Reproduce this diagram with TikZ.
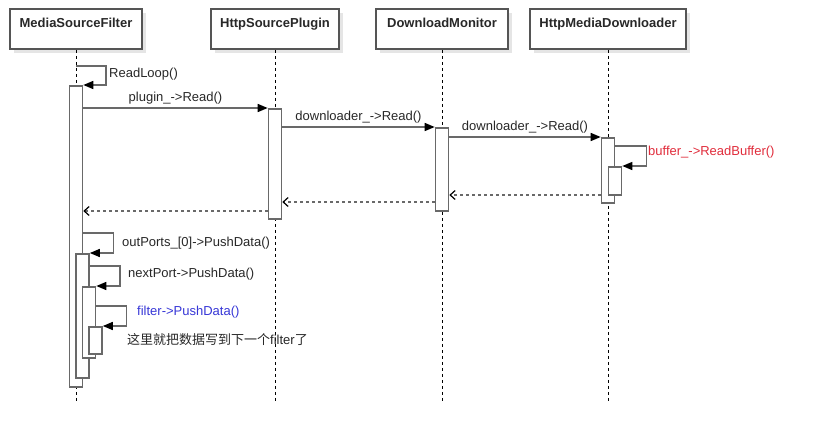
\documentclass[tikz,border=0pt]{standalone}
\usepackage{fontspec}
\setmainfont{Liberation Sans}
\newfontfamily\cjk{Noto Sans CJK SC}
\usetikzlibrary{arrows.meta,shadows}
\definecolor{linegray}{RGB}{105,105,105}
\definecolor{boxgray}{RGB}{85,85,85}
\definecolor{txtgray}{RGB}{40,40,40}
\definecolor{callred}{RGB}{225,45,60}
\definecolor{callblue}{RGB}{55,55,215}

\begin{document}
\begin{tikzpicture}[x=1pt, y=-1pt,
  obj/.style={rectangle, draw=boxgray, line width=1.5pt, fill=white, minimum width=#1, inner sep=0pt, text height=18.5pt, text depth=21.5pt, font=\bfseries\fontsize{13}{15}\selectfont, text=txtgray, drop shadow={shadow xshift=4pt, shadow yshift=-4pt, opacity=0.1, fill=black}},
  act/.style={rectangle, draw=linegray, line width=1.6pt, fill=white, minimum width=13pt, minimum height=#1, inner sep=0pt, anchor=north},
  msg/.style={draw=linegray, line width=1.4pt, -{Triangle[length=10pt, width=8pt, color=black]}},
  ret/.style={draw=linegray, line width=1.2pt, dash pattern=on 3pt off 3pt, -{Straight Barb[length=5pt, width=9pt, color=black]}},
  lifeline/.style={draw=black, line width=0.8pt, dash pattern=on 3pt off 3pt},
  lbl/.style={font=\fontsize{13}{15}\selectfont, text=txtgray, inner sep=0pt}
]
\fill[white] (0,0) rectangle (814,442);
\useasboundingbox (0,0) rectangle (814,442);

% participants
\node[obj=132pt] (msf) at (76,29) {MediaSourceFilter};
\node[obj=128pt] (hsp) at (275,29) {HttpSourcePlugin};
\node[obj=132pt] (dm) at (442,29) {DownloadMonitor};
\node[obj=156pt] (hmd) at (608,29) {HttpMediaDownloader};

\foreach \p in {msf,hsp,dm,hmd}
  \draw[lifeline] (\p.south) -- (\p.south |- 0,402);

% activations
\node[act=301pt] (a1) at (76,85) {};
\node[act=124pt] (a6) at (82.5,253) {};
\node[act=71pt] (a7) at (89,286) {};
\node[act=27pt] (a8) at (95.5,326) {};
\node[act=110pt] (a2) at (275,108) {};
\node[act=83pt] (a3) at (442,127) {};
\node[act=65pt] (a4) at (608,137) {};
\node[act=28pt] (a5) at (615,166) {};

\coordinate (rl) at (76,66);

% calls
\draw[msg] (rl) -- ++(30,0) |- (a1.north east);
\node[lbl, anchor=west] (readloop) at (109,74) {ReadLoop()};
\draw[msg] (a1.east |- a2.north west) -- (a2.north west) node[lbl, midway, above=3pt] {plugin\_->Read()};
\draw[msg] (a2.east |- a3.north west) -- (a3.north west) node[lbl, midway, above=3pt] {downloader\_->Read()};
\draw[msg] (a3.east |- a4.north west) -- (a4.north west) node[lbl, midway, above=3pt] {downloader\_->Read()};
\draw[msg] (a4.east |- 0,146) -- ++(31,0) |- (a5.north east);
\node[lbl, anchor=west, text=callred] (readbuf) at (648,152) {buffer\_->ReadBuffer()};

% returns
\draw[ret] (a4.west |- 0,195) -- (a3.east |- 0,195);
\draw[ret] (a3.west |- 0,202) -- (a2.east |- 0,202);
\draw[ret] (a2.west |- 0,211) -- (a1.east |- 0,211);

% push data
\draw[msg] (a1.east |- 0,233) -- ++(30,0) |- (a6.north east);
\node[lbl, anchor=west] (outports) at (122,243) {outPorts\_[0]->PushData()};
\draw[msg] (a6.east |- 0,266) -- ++(30,0) |- (a7.north east);
\node[lbl, anchor=west] (nextport) at (128,274) {nextPort->PushData()};
\draw[msg] (a7.east |- 0,306) -- ++(30,0) |- (a8.north east);
\node[lbl, anchor=west, text=callblue] (filter) at (137,312) {filter->PushData()};
\node[lbl, anchor=west] (note) at (127,340) {{\cjk 这里就把数据写到下一个}filter{\cjk 了}};
\end{tikzpicture}
\end{document}
